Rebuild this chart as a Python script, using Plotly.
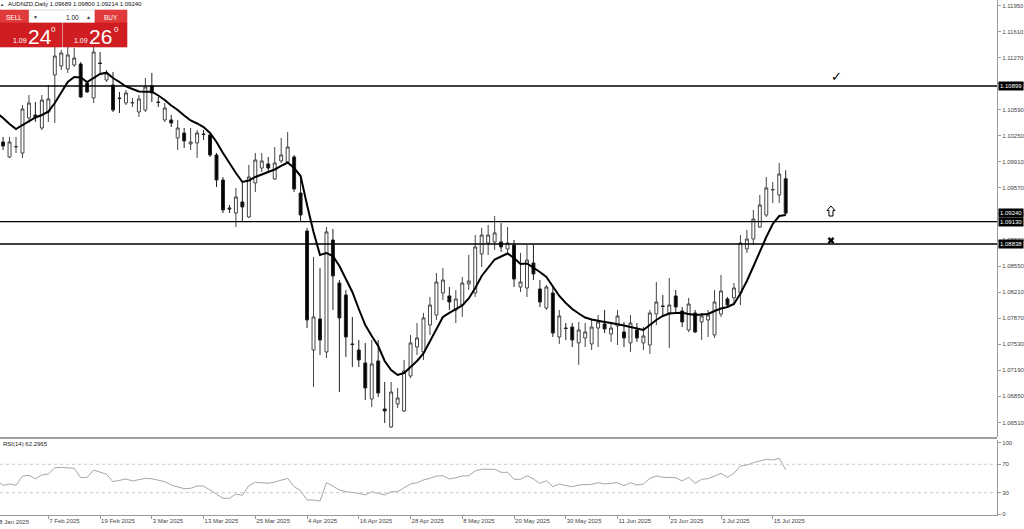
import plotly.graph_objects as go

# ---------------- data ----------------
trading_days = {
    "2025-01": [28, 29, 30, 31],
    "2025-02": [3, 4, 5, 6, 7, 10, 11, 12, 13, 14, 17, 18, 19, 20, 21, 24, 25, 26, 27, 28],
    "2025-03": [3, 4, 5, 6, 7, 10, 11, 12, 13, 14, 17, 18, 19, 20, 21, 24, 25, 26, 27, 28, 31],
    "2025-04": [1, 2, 3, 4, 7, 8, 9, 10, 11, 14, 15, 16, 17, 18, 21, 22, 23, 24, 25, 28, 29, 30],
    "2025-05": [1, 2, 5, 6, 7, 8, 9, 12, 13, 14, 15, 16, 19, 20, 21, 22, 23, 26, 27, 28, 29, 30],
    "2025-06": [2, 3, 4, 5, 6, 9, 10, 11, 12, 13, 16, 17, 18, 19, 20, 23, 24, 25, 26, 27, 30],
    "2025-07": [1, 2, 3, 4, 7, 8, 9, 10, 11, 14, 15, 16, 17],
}
dates = [f"{m}-{d:02d}" for m, days in trading_days.items() for d in days]

open_ = [1.10195, 1.10169, 1.09973, 1.10103, 1.10025, 1.10482, 1.10521, 1.10351, 1.10560, 1.11043,
         1.11160, 1.11121, 1.11173, 1.11186, 1.10938, 1.10743, 1.11199, 1.10977, 1.10912, 1.10743,
         1.10677, 1.10677, 1.10560, 1.10586, 1.10899, 1.10690, 1.10456, 1.10456, 1.10221, 1.10286,
         1.10143, 1.10156, 1.10273, 1.10260, 1.09999, 1.09673, 1.09308, 1.09242, 1.09386, 1.09190,
         1.09634, 1.09829, 1.09882, 1.09686, 1.09921, 1.09908, 1.09973, 1.09503, 1.09008, 1.07455,
         1.07860, 1.07429, 1.08890, 1.08329, 1.08173, 1.07534, 1.07455, 1.07286, 1.06816, 1.07312,
         1.06686, 1.06451, 1.06751, 1.06660, 1.07116, 1.07494, 1.07429, 1.07781, 1.07912, 1.08199,
         1.08160, 1.07977, 1.08042, 1.08316, 1.08199, 1.08708, 1.08851, 1.08864, 1.08864, 1.08773,
         1.08825, 1.08277, 1.08264, 1.08590, 1.08251, 1.08003, 1.08199, 1.07625, 1.07742, 1.07755,
         1.07547, 1.07612, 1.07534, 1.07742, 1.07794, 1.07664, 1.07768, 1.07690, 1.07547, 1.07716,
         1.07547, 1.07520, 1.07925, 1.08029, 1.07938, 1.08160, 1.07964, 1.07716, 1.07938, 1.07821,
         1.07847, 1.07651, 1.07925, 1.08121, 1.08134, 1.08199, 1.08773, 1.08903, 1.09060, 1.09216,
         1.09542, 1.09477, 1.09689]
high = [1.10482, 1.10234, 1.10234, 1.10234, 1.10651, 1.10782, 1.10690, 1.10782, 1.10912, 1.11434,
        1.11369, 1.11408, 1.11395, 1.11212, 1.10951, 1.11408, 1.11343, 1.11108, 1.11082, 1.10821,
        1.10847, 1.10743, 1.10782, 1.11003, 1.11069, 1.10756, 1.10677, 1.10521, 1.10456, 1.10351,
        1.10351, 1.10325, 1.10325, 1.10286, 1.10025, 1.09712, 1.09347, 1.09569, 1.09634, 1.09869,
        1.10025, 1.10025, 1.09973, 1.10103, 1.10221, 1.10299, 1.09999, 1.09712, 1.09047, 1.08668,
        1.08525, 1.09060, 1.09034, 1.08368, 1.08238, 1.07886, 1.07586, 1.07547, 1.07586, 1.07586,
        1.07038, 1.07038, 1.06960, 1.07325, 1.07651, 1.07807, 1.07938, 1.08147, 1.08460, 1.08525,
        1.08277, 1.08238, 1.08408, 1.08695, 1.08955, 1.09047, 1.09086, 1.09203, 1.09112, 1.09060,
        1.08890, 1.08721, 1.08825, 1.08825, 1.08368, 1.08303, 1.08277, 1.07977, 1.07807, 1.07807,
        1.07821, 1.07807, 1.07847, 1.07912, 1.07977, 1.07821, 1.07977, 1.07821, 1.07912, 1.07807,
        1.07755, 1.07977, 1.08342, 1.08173, 1.08394, 1.08238, 1.08016, 1.08134, 1.07977, 1.07938,
        1.07977, 1.08238, 1.08434, 1.08147, 1.08329, 1.08955, 1.09021, 1.09282, 1.09477, 1.09712,
        1.09647, 1.09895, 1.09800]
low = [1.10129, 1.10064, 1.09960, 1.10025, 1.09960, 1.10416, 1.10430, 1.10325, 1.10430, 1.10416,
       1.11108, 1.11069, 1.11147, 1.10743, 1.10808, 1.10677, 1.11069, 1.10951, 1.10560, 1.10547,
       1.10651, 1.10625, 1.10495, 1.10560, 1.10690, 1.10625, 1.10430, 1.10364, 1.10064, 1.10090,
       1.10064, 1.09960, 1.10195, 1.09973, 1.09582, 1.09242, 1.09242, 1.09060, 1.09125, 1.09177,
       1.09516, 1.09777, 1.09777, 1.09673, 1.09895, 1.09895, 1.09516, 1.09125, 1.07742, 1.06973,
       1.07390, 1.07351, 1.07977, 1.06907, 1.07364, 1.07233, 1.07233, 1.06803, 1.06712, 1.06842,
       1.06503, 1.06438, 1.06699, 1.06646, 1.07090, 1.07390, 1.07325, 1.07651, 1.07847, 1.08107,
       1.07977, 1.07807, 1.07886, 1.08238, 1.08147, 1.08538, 1.08695, 1.08760, 1.08734, 1.08721,
       1.08277, 1.08212, 1.08147, 1.08368, 1.08016, 1.07977, 1.07625, 1.07534, 1.07586, 1.07494,
       1.07260, 1.07494, 1.07455, 1.07494, 1.07677, 1.07560, 1.07520, 1.07494, 1.07429, 1.07560,
       1.07455, 1.07403, 1.07781, 1.07886, 1.07481, 1.07951, 1.07755, 1.07690, 1.07677, 1.07586,
       1.07625, 1.07612, 1.07886, 1.08003, 1.08042, 1.08042, 1.08721, 1.08825, 1.09047, 1.09190,
       1.09373, 1.09373, 1.09214]
close = [1.10390, 1.10116, 1.10169, 1.10110, 1.10599, 1.10677, 1.10495, 1.10716, 1.10730, 1.11290,
         1.11330, 1.11304, 1.11264, 1.10756, 1.10821, 1.11343, 1.11193, 1.11069, 1.10586, 1.10736,
         1.10808, 1.10684, 1.10730, 1.10886, 1.10808, 1.10684, 1.10612, 1.10416, 1.10351, 1.10182,
         1.10169, 1.10286, 1.10266, 1.09999, 1.09673, 1.09282, 1.09295, 1.09451, 1.09321, 1.09712,
         1.09934, 1.09921, 1.09829, 1.09895, 1.09999, 1.10103, 1.09555, 1.09216, 1.07847, 1.07886,
         1.07586, 1.08995, 1.08421, 1.07873, 1.07625, 1.07527, 1.07325, 1.06960, 1.07273, 1.06894,
         1.06660, 1.06907, 1.06829, 1.07181, 1.07547, 1.07612, 1.07873, 1.08042, 1.08342, 1.08368,
         1.08081, 1.08121, 1.08329, 1.08355, 1.08799, 1.08955, 1.08955, 1.08982, 1.08799, 1.08851,
         1.08381, 1.08342, 1.08629, 1.08447, 1.08081, 1.08277, 1.07677, 1.07899, 1.07736, 1.07586,
         1.07716, 1.07690, 1.07755, 1.07821, 1.07729, 1.07742, 1.07899, 1.07612, 1.07807, 1.07612,
         1.07638, 1.07938, 1.08081, 1.08023, 1.08042, 1.08016, 1.07821, 1.08055, 1.07690, 1.07899,
         1.07912, 1.08081, 1.08225, 1.08042, 1.08264, 1.08851, 1.08903, 1.09164, 1.09347, 1.09569,
         1.09549, 1.09751, 1.09240]
ma_line = [1.10547, 1.10482, 1.10403, 1.10338, 1.10390, 1.10436, 1.10488, 1.10521, 1.10564, 1.10677,
           1.10821, 1.10951, 1.11017, 1.11010, 1.10951, 1.11003, 1.11056, 1.11073, 1.11003, 1.10951,
           1.10893, 1.10860, 1.10827, 1.10825, 1.10825, 1.10775, 1.10716, 1.10645, 1.10586, 1.10514,
           1.10449, 1.10410, 1.10364, 1.10286, 1.10169, 1.10025, 1.09888, 1.09764, 1.09647, 1.09666,
           1.09712, 1.09745, 1.09777, 1.09810, 1.09856, 1.09901, 1.09829, 1.09725, 1.09347, 1.08995,
           1.08695, 1.08721, 1.08681, 1.08551, 1.08381, 1.08212, 1.07990, 1.07781, 1.07638, 1.07507,
           1.07312, 1.07194, 1.07129, 1.07155, 1.07233, 1.07312, 1.07410, 1.07573, 1.07742, 1.07886,
           1.07938, 1.07984, 1.08036, 1.08127, 1.08264, 1.08421, 1.08531, 1.08636, 1.08675, 1.08714,
           1.08655, 1.08577, 1.08584, 1.08531, 1.08473, 1.08408, 1.08290, 1.08160, 1.08068, 1.07990,
           1.07931, 1.07879, 1.07853, 1.07834, 1.07821, 1.07807, 1.07794, 1.07775, 1.07755, 1.07738,
           1.07716, 1.07781, 1.07847, 1.07899, 1.07931, 1.07938, 1.07942, 1.07925, 1.07912, 1.07918,
           1.07925, 1.07964, 1.07997, 1.08016, 1.08055, 1.08192, 1.08355, 1.08544, 1.08740, 1.08929,
           1.09099, 1.09203, 1.09216]
rsi = [48.0, 40.4, 42.3, 40.4, 53.5, 54.5, 49.7, 54.9, 56.3, 65.2,
       65.7, 65.2, 64.3, 51.2, 51.6, 62.0, 58.7, 55.9, 45.5, 47.9,
       49.3, 46.5, 47.9, 50.2, 49.7, 47.9, 45.5, 40.8, 38.5, 35.7,
       36.2, 39.4, 39.4, 33.8, 27.7, 22.1, 22.1, 28.2, 26.3, 39.9,
       44.6, 44.1, 43.2, 45.1, 47.9, 50.2, 38.5, 32.8, 19.7, 19.7,
       18.3, 44.1, 39.4, 33.8, 31.4, 30.6, 29.2, 26.8, 31.4, 29.2,
       26.8, 31.4, 31.4, 37.0, 42.3, 44.1, 47.9, 50.2, 53.5, 53.9,
       49.3, 51.1, 53.5, 53.9, 60.6, 63.0, 63.0, 63.0, 58.7, 58.7,
       48.9, 48.9, 53.9, 49.3, 43.2, 46.9, 38.5, 42.3, 39.9, 38.5,
       40.8, 40.8, 41.8, 44.1, 42.3, 43.2, 44.1, 39.9, 44.1, 40.8,
       42.3, 50.2, 53.5, 51.7, 51.7, 51.1, 46.5, 51.7, 43.2, 48.9,
       49.7, 53.9, 57.3, 51.7, 57.3, 67.6, 69.0, 72.3, 74.6, 77.0,
       76.1, 78.5, 62.2965]

levels = [1.10899, 1.09130, 1.08838]
price_ticks = [1.11950, 1.11610, 1.11270, 1.10930, 1.10590, 1.10250, 1.09910, 1.09570, 1.09230,
               1.08890, 1.08550, 1.08210, 1.07870, 1.07530, 1.07190, 1.06850, 1.06510]
rsi_ticks = [0, 30, 70, 100]
rsi_levels = [30, 70]
date_ticks = ["2025-02-07", "2025-02-19", "2025-03-03", "2025-03-13", "2025-03-25", "2025-04-04",
              "2025-04-16", "2025-04-28", "2025-05-08", "2025-05-20", "2025-05-30", "2025-06-11",
              "2025-06-23", "2025-07-03", "2025-07-15"]
date_labels = ["7 Feb 2025", "19 Feb 2025", "3 Mar 2025", "13 Mar 2025", "25 Mar 2025", "4 Apr 2025",
               "16 Apr 2025", "28 Apr 2025", "8 May 2025", "20 May 2025", "30 May 2025", "11 Jun 2025",
               "23 Jun 2025", "3 Jul 2025", "15 Jul 2025"]
first_label = "28 Jan 2025"
# chart objects drawn to the right of the last bar (bar index, price)
check_pos, check_price = 129.9, 1.11020
arrow_pos, arrow_price = 129.0, 1.09268
cross_pos, cross_price = 129.0, 1.08884

# ---------------- figure ----------------
W_PLOT, H_PLOT = 997, 515
def px(x):
    return x / W_PLOT
def py(y):
    return 1 - y / H_PLOT

FONT = "Liberation Sans"
X_RANGE = [0.526, 154.67]
Y_RANGE = [1.06320, 1.12021]
BAR_PER_PX = (X_RANGE[1] - X_RANGE[0]) / W_PLOT
PRICE_PER_PX = (Y_RANGE[1] - Y_RANGE[0]) / 437.0

fig = go.Figure()
fig.add_trace(go.Candlestick(
    x=dates, open=open_, high=high, low=low, close=close,
    increasing=dict(fillcolor="white", line=dict(color="#444444", width=1)),
    decreasing=dict(fillcolor="black", line=dict(color="#222222", width=1)),
    whiskerwidth=0, xaxis="x", yaxis="y", showlegend=False, hoverinfo="skip"))
fig.add_trace(go.Scatter(x=dates, y=ma_line, mode="lines", line=dict(color="black", width=2),
                         xaxis="x", yaxis="y", showlegend=False, hoverinfo="skip"))
fig.add_trace(go.Scatter(x=dates, y=rsi, mode="lines", line=dict(color="#a6a6a6", width=1),
                         xaxis="x2", yaxis="y2", showlegend=False, hoverinfo="skip"))
fig.add_trace(go.Scatter(x=[cross_pos], y=[cross_price], mode="markers", xaxis="x3", yaxis="y",
                         marker=dict(symbol="x", size=6, color="black", line=dict(width=0)),
                         showlegend=False, hoverinfo="skip"))

shapes = []
for lv in levels:
    shapes.append(dict(type="line", xref="paper", yref="y", x0=0, x1=1, y0=lv, y1=lv,
                       line=dict(color="black", width=1.4)))
for lv in rsi_levels:
    shapes.append(dict(type="line", xref="paper", yref="y2", x0=0, x1=1, y0=lv, y1=lv,
                       line=dict(color="#c8c8c8", width=1, dash="dot")))
# hollow up-arrow object (glyph outline in pixel units around its anchor)
outline = [(0, 5), (4, 0.5), (2, 0.5), (2, -5), (-2, -5), (-2, 0.5), (-4, 0.5)]
path = "M " + " L ".join(f"{arrow_pos + dx * BAR_PER_PX:.4f},{arrow_price + dy * PRICE_PER_PX:.6f}"
                         for dx, dy in outline) + " Z"
shapes.append(dict(type="path", xref="x3", yref="y", path=path, fillcolor="white",
                   line=dict(color="black", width=1)))
# window separator
shapes.append(dict(type="line", xref="paper", yref="paper", x0=0, x1=1, y0=py(438), y1=py(438),
                   line=dict(color="#a0a0a0", width=2)))
# one-click trading panel
red_top = "#e03a3a"
red_bot = "#cf1d22"
panel = [(0, 10, 29, 23, red_top), (29, 10, 95, 23, "white"), (95, 10, 127, 23, red_top),
         (0, 23, 62, 47, red_bot), (63, 23, 127, 47, red_bot)]
for x0, y0, x1, y1, col in panel:
    shapes.append(dict(type="rect", xref="paper", yref="paper", x0=px(x0), x1=px(x1),
                       y0=py(y1), y1=py(y0), fillcolor=col, layer="above",
                       line=dict(color="#c8c8c8" if col == "white" else col, width=0.6)))

ann = []
def txt(x, y, s, size, color="white", anchor="center", family=FONT):
    ann.append(dict(xref="paper", yref="paper", x=px(x), y=py(y), text=s, showarrow=False,
                    xanchor=anchor, yanchor="middle", font=dict(size=size, color=color, family=family)))

txt(14, 17, "SELL", 6.5)
txt(35, 17, "▼", 5, "#333333")
txt(81, 17, "1.00", 6.5, "#222222", "right")
txt(88.5, 17, "▲", 5, "#333333")
txt(110.5, 17, "BUY", 6.5)
txt(19.5, 40.5, "1.09", 7)
txt(39.5, 36, "24", 21)
txt(53.5, 29.5, "0", 8)
txt(80.5, 40.5, "1.09", 7)
txt(100.5, 36, "26", 21)
txt(116.5, 29.5, "0", 8)
txt(1.5, 4, "▲", 4, "#222222")
txt(6, 4, f"AUDNZD,Daily {open_[-1]:.5f} {high[-1]:.5f} {low[-1]:.5f} {close[-1]:.5f}", 6, "#111111", "left")
txt(1, 443.5, f"RSI(14) {rsi[-1]:.4f}", 6, "#222222", "left")

# partially visible first date label at the left edge
ann.append(dict(xref="paper", yref="paper", x=0, y=py(522), xshift=-6, text=first_label,
                showarrow=False, xanchor="left", yanchor="middle",
                font=dict(size=6, color="#444444", family=FONT)))

# price labels on the right axis
for lv in levels + [close[-1]]:
    ann.append(dict(xref="paper", yref="y", x=1, y=lv, xshift=1, text=f"{lv:.5f}", showarrow=False,
                    xanchor="left", yanchor="middle", bgcolor="black", borderpad=1,
                    font=dict(size=6, color="white", family=FONT)))

# check mark object
ann.append(dict(xref="x", yref="y", x=check_pos, y=check_price, text="✓", showarrow=False,
                font=dict(size=13, color="black", family="DejaVu Sans")))

axis_font = dict(size=6, color="#444444", family=FONT)
fig.update_layout(
    width=1024, height=529,
    margin=dict(l=0, r=27, t=0, b=14),
    paper_bgcolor="white", plot_bgcolor="white",
    showlegend=False, boxgap=0.35,
    xaxis=dict(domain=[0, 1], anchor="y", type="category", categoryorder="array",
               categoryarray=dates, range=X_RANGE, showticklabels=False, ticks="",
               showgrid=False, zeroline=False, showline=False, rangeslider=dict(visible=False)),
    xaxis3=dict(domain=[0, 1], anchor="y", overlaying="x", type="linear", range=X_RANGE,
                visible=False),
    yaxis=dict(domain=[py(437), 1], anchor="x", side="right",
               range=Y_RANGE, tickmode="array", tickvals=price_ticks,
               ticktext=[f"{v:.5f}" for v in price_ticks], ticks="outside", ticklen=3,
               tickcolor="#999999", showline=True, linecolor="#999999", linewidth=1,
               showgrid=False, zeroline=False, tickfont=axis_font),
    xaxis2=dict(domain=[0, 1], anchor="y2", type="category", categoryorder="array",
                categoryarray=dates, range=X_RANGE, tickmode="array", tickvals=date_ticks,
                ticktext=date_labels, ticks="outside", ticklen=3, tickcolor="#999999",
                ticklabelposition="outside right", showline=True, linecolor="#999999",
                linewidth=1, showgrid=False, zeroline=False, tickfont=axis_font),
    yaxis2=dict(domain=[0, py(440)], anchor="x2", side="right", range=[-1.4, 104.2],
                tickmode="array", tickvals=rsi_ticks, ticks="outside", ticklen=3,
                tickcolor="#999999", showline=True, linecolor="#999999", linewidth=1,
                showgrid=False, zeroline=False, tickfont=axis_font),
    shapes=shapes, annotations=ann,
)

fig.write_html("out.html", config={"displayModeBar": False},
               post_script="document.body.style.margin='0';document.body.style.overflow='hidden';")
